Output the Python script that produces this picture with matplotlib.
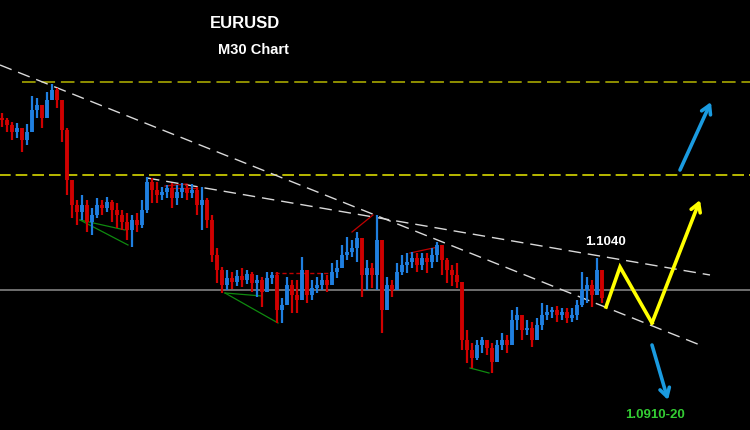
import numpy as np
import matplotlib
matplotlib.use('Agg')
import matplotlib.pyplot as plt

# EURUSD M30 bars
closes = [1.1178, 1.1173, 1.1166, 1.1170, 1.1158, 1.1166, 1.1188, 1.1193, 1.1180, 1.1198,
          1.1208, 1.1198, 1.1168, 1.1118, 1.1093, 1.1086, 1.1093, 1.1076, 1.1083, 1.1093,
          1.1090, 1.1096, 1.1088, 1.1083, 1.1076, 1.1068, 1.1078, 1.1073, 1.1088, 1.1116,
          1.1108, 1.1103, 1.1106, 1.1110, 1.1100, 1.1106, 1.1110, 1.1105, 1.1108, 1.1093,
          1.1098, 1.1078, 1.1043, 1.1028, 1.1013, 1.1020, 1.1016, 1.1022, 1.1018, 1.1024,
          1.1015, 1.1018, 1.1006, 1.1020, 1.1023, 1.0988, 1.0993, 1.1013, 1.1003, 1.0998,
          1.1028, 1.1003, 1.1010, 1.1013, 1.1018, 1.1013, 1.1026, 1.1030, 1.1043, 1.1046,
          1.1050, 1.1060, 1.1023, 1.1030, 1.1023, 1.1058, 1.0988, 1.1013, 1.1008, 1.1026,
          1.1033, 1.1036, 1.1040, 1.1033, 1.1040, 1.1036, 1.1043, 1.1053, 1.1038, 1.1028,
          1.1023, 1.1016, 1.0958, 1.0948, 1.0940, 1.0953, 1.0958, 1.0950, 1.0936, 1.0953,
          1.0958, 1.0953, 1.0978, 1.0983, 1.0968, 1.0970, 1.0958, 1.0973, 1.0983, 1.0986,
          1.0988, 1.0983, 1.0986, 1.0980, 1.0983, 1.0993, 1.1008, 1.1013, 1.1003, 1.1028,
          1.1000]
highs = [1.1185, 1.1180, 1.1176, 1.1175, 1.1170, 1.1174, 1.1202, 1.1200, 1.1193, 1.1206,
         1.1214, 1.1210, 1.1198, 1.1170, 1.1113, 1.1098, 1.1103, 1.1098, 1.1090, 1.1100,
         1.1098, 1.1101, 1.1098, 1.1095, 1.1088, 1.1085, 1.1083, 1.1085, 1.1098, 1.1121,
         1.1120, 1.1116, 1.1111, 1.1113, 1.1115, 1.1113, 1.1115, 1.1113, 1.1114, 1.1111,
         1.1111, 1.1100, 1.1083, 1.1050, 1.1031, 1.1028, 1.1026, 1.1028, 1.1030, 1.1028,
         1.1026, 1.1023, 1.1021, 1.1026, 1.1026, 1.1026, 1.1000, 1.1021, 1.1018, 1.1018,
         1.1041, 1.1015, 1.1018, 1.1021, 1.1025, 1.1023, 1.1035, 1.1038, 1.1053, 1.1061,
         1.1058, 1.1066, 1.1058, 1.1038, 1.1035, 1.1083, 1.1021, 1.1021, 1.1018, 1.1035,
         1.1043, 1.1045, 1.1046, 1.1045, 1.1045, 1.1045, 1.1050, 1.1056, 1.1051, 1.1040,
         1.1033, 1.1035, 1.1013, 1.0968, 1.0955, 1.0958, 1.0961, 1.0958, 1.0955, 1.0958,
         1.0965, 1.0963, 1.0988, 1.0991, 1.0978, 1.0978, 1.0976, 1.0980, 1.0995, 1.0993,
         1.0991, 1.0992, 1.0990, 1.0990, 1.0990, 1.0998, 1.1026, 1.1021, 1.1018, 1.1040,
         1.1021]
lows = [1.1171, 1.1166, 1.1158, 1.1160, 1.1146, 1.1153, 1.1170, 1.1180, 1.1170, 1.1186,
        1.1198, 1.1190, 1.1156, 1.1103, 1.1080, 1.1073, 1.1078, 1.1066, 1.1063, 1.1080,
        1.1083, 1.1086, 1.1076, 1.1070, 1.1068, 1.1058, 1.1051, 1.1066, 1.1070, 1.1085,
        1.1095, 1.1095, 1.1098, 1.1100, 1.1090, 1.1093, 1.1100, 1.1098, 1.1100, 1.1083,
        1.1068, 1.1070, 1.1036, 1.1015, 1.1005, 1.1008, 1.1009, 1.1012, 1.1011, 1.1014,
        1.1006, 1.1001, 1.0991, 1.1013, 1.1014, 1.0975, 1.0975, 1.0998, 1.0985, 1.0985,
        1.1008, 1.0995, 1.0998, 1.1005, 1.1008, 1.1006, 1.1018, 1.1020, 1.1031, 1.1038,
        1.1041, 1.1036, 1.1001, 1.1008, 1.1010, 1.1008, 1.0965, 1.1001, 1.1001, 1.1015,
        1.1023, 1.1025, 1.1030, 1.1026, 1.1028, 1.1025, 1.1030, 1.1036, 1.1023, 1.1015,
        1.1012, 1.1010, 1.0948, 1.0935, 1.0930, 1.0938, 1.0945, 1.0943, 1.0925, 1.0941,
        1.0948, 1.0945, 1.0958, 1.0968, 1.0958, 1.0963, 1.0951, 1.0958, 1.0968, 1.0978,
        1.0980, 1.0976, 1.0978, 1.0975, 1.0976, 1.0978, 1.0991, 1.0995, 1.0991, 1.1003,
        1.0995]
first_open = 1.1180

# analyst levels / trendlines (bar index, price)
upper_level = 1.1216
mid_level = 1.1123
last_level = 1.1008
trend_a = [(-0.4, 1.1233), (139.6, 1.0953)]
trend_b = [(29.0, 1.1120), (141.6, 1.1023)]
scenario_x = [120.8, 123.6, 130.0, 139.6]
scenario_y = [1.0991, 1.1031, 1.0975, 1.1098]
bull_arrow = [(135.6, 1.1128), (141.8, 1.1196)]
bear_arrow = [(130.0, 1.0953), (133.2, 1.0898)]
green_marks = [[(15.6, 1.1078), (24.6, 1.1068)], [(15.6, 1.1078), (25.2, 1.1053)],
               [(44.6, 1.1005), (52.0, 1.1002)], [(44.6, 1.1005), (55.2, 1.0975)],
               [(93.6, 1.0930), (97.4, 1.0925)]]
red_marks = [[(32.6, 1.1112), (37.0, 1.1114)], [(33.6, 1.1110), (39.0, 1.1110)],
             [(70.0, 1.1066), (74.2, 1.1083)], [(81.6, 1.1045), (87.2, 1.1051)]]
red_box = [(54.6, 1.1025), (65.2, 1.1025)]

closes = np.array(closes)
opens = np.concatenate([[first_open], closes[:-1]])
highs = np.maximum(np.array(highs), np.maximum(opens, closes))
lows = np.minimum(np.array(lows), np.minimum(opens, closes))
idx = np.arange(len(closes))
up = closes >= opens
colors = np.where(up, '#1f7fe0', '#d00000')

fig = plt.figure(figsize=(7.5, 4.3), dpi=100, facecolor='black')
ax = fig.add_axes([0, 0, 1, 1])
ax.set_facecolor('black')
ax.set_xlim(-0.4, 149.6)
ax.set_ylim(1.0868, 1.1298)
ax.axis('off')

# levels
ax.hlines(upper_level, 4, 150, colors='#8f8f00', linestyles=(0, (7, 3)), lw=1.4)
ax.hlines(mid_level, -1, 150, colors='#d8d800', linestyles=(0, (7, 3)), lw=1.2)
ax.axhline(last_level, color='#8c8c8c', lw=1.1)

# trendlines
for tl in (trend_a, trend_b):
    ax.plot([p[0] for p in tl], [p[1] for p in tl], color='#d9d9d9', lw=1.0,
            dashes=(9, 5))

# pattern marks
for seg in green_marks:
    ax.plot([p[0] for p in seg], [p[1] for p in seg], color='#0f8a0f', lw=0.9)
for seg in red_marks:
    ax.plot([p[0] for p in seg], [p[1] for p in seg], color='#c00000', lw=0.9)
ax.plot([p[0] for p in red_box], [p[1] for p in red_box], color='#c00000', lw=1.0,
        dashes=(3, 2))

# bars
ax.vlines(idx, lows, highs, colors=colors, lw=1.6)
ax.vlines(idx, np.minimum(opens, closes), np.maximum(opens, closes), colors=colors, lw=2.8)

# forecast path
ax.plot(scenario_x[:-1], scenario_y[:-1], color='#ffff00', lw=2.6, solid_joinstyle='miter')
ax.annotate('', xy=(scenario_x[-1], scenario_y[-1]), xytext=(scenario_x[-2], scenario_y[-2]),
            arrowprops=dict(arrowstyle='->, head_length=0.6, head_width=0.35',
                            color='#ffff00', lw=2.6, shrinkA=0, shrinkB=0))
for a in (bull_arrow, bear_arrow):
    ax.annotate('', xy=a[1], xytext=a[0],
                arrowprops=dict(arrowstyle='->, head_length=0.6, head_width=0.35',
                                color='#1a9be0', lw=2.6, shrinkA=0, shrinkB=0))

font = 'Liberation Sans'
ax.text(48.6, 1.1274, 'EURUSD', color='white', fontsize=12, fontweight='bold',
        family=font, ha='center', va='center')
ax.text(50.2, 1.1248, 'M30 Chart', color='white', fontsize=10.5, fontweight='bold',
        family=font, ha='center', va='center')
ax.text(120.6, 1.1056, '1.1040', color='white', fontsize=9.5, fontweight='bold',
        family=font, ha='center', va='center')
ax.text(130.6, 1.0883, '1.0910-20', color='#33cc33', fontsize=9.5, fontweight='bold',
        family=font, ha='center', va='center')

fig.savefig('out.png', dpi=100, facecolor='black')
